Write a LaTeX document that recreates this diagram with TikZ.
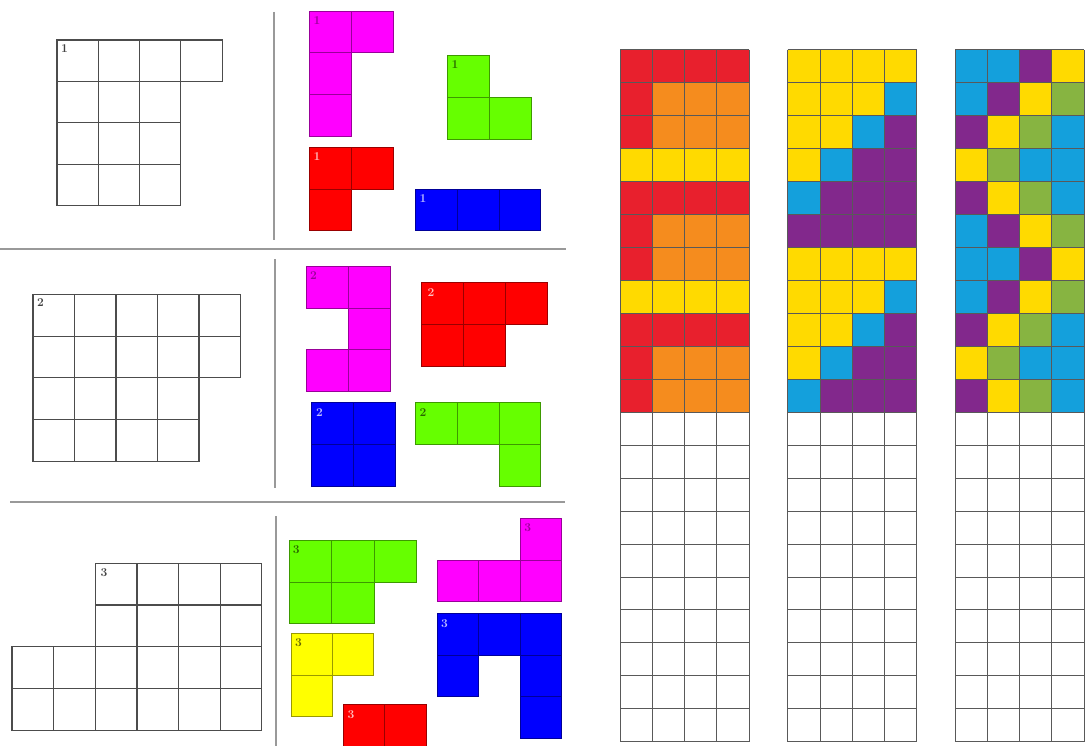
\documentclass[tikz,border=0pt]{standalone}
\usepackage{tikz}

\definecolor{pmag}{RGB}{255,0,255}
\definecolor{plime}{RGB}{102,255,0}
\definecolor{pred}{RGB}{255,0,0}
\definecolor{pblue}{RGB}{0,0,255}
\definecolor{pyel}{RGB}{255,255,0}
\definecolor{sR}{RGB}{232,32,45}
\definecolor{sO}{RGB}{245,140,30}
\definecolor{sY}{RGB}{255,218,0}
\definecolor{sC}{RGB}{20,160,220}
\definecolor{sP}{RGB}{130,40,140}
\definecolor{sG}{RGB}{135,180,65}

\begin{document}
\begin{tikzpicture}[x=1pt, y=-1pt,
    cellline/.style={draw=black!70, line width=1.1pt},
    sep/.style={draw=black!40, line width=1.8pt},
    tile/.style={draw=#1!60!black, fill=#1, line width=.8pt},
    tag/.style={anchor=north west, inner sep=0pt, font=\fontsize{12}{12}\selectfont\bfseries},
    stripline/.style={draw=black!65, line width=1pt}
]
    \useasboundingbox[fill=white] (0,0) rectangle (1091,746);

    % separators
    \draw[sep] (0,249) -- (566,249);
    \draw[sep] (10,502) -- (565,502);
    \draw[sep] (274,12) -- (274,240);
    \draw[sep] (275,259) -- (275,488);
    \draw[sep] (276.3,516) -- (276.3,746);

    % board 1
    \begin{scope}[shift={(57,40)}]
        \foreach \i in {0,...,3} \draw[cellline] (\i*41.3,0) rectangle ++(41.3,41.4);
        \foreach \j in {1,2,3} \foreach \i in {0,1,2}
            \draw[cellline] (\i*41.3,\j*41.4) rectangle ++(41.3,41.4);
        \node[tag, text=black!75] (boardone) at (4,4) {1};
    \end{scope}

    % board 2
    \begin{scope}[shift={(33,294.5)}]
        \foreach \j in {0,1} \foreach \i in {0,...,4}
            \draw[cellline] (\i*41.5,\j*41.7) rectangle ++(41.5,41.7);
        \foreach \j in {2,3} \foreach \i in {0,...,3}
            \draw[cellline] (\i*41.5,\j*41.7) rectangle ++(41.5,41.7);
        \node[tag, text=black!75] (boardtwo) at (4,4) {2};
    \end{scope}

    % board 3
    \begin{scope}[shift={(12,563.3)}]
        \foreach \j in {0,1} \foreach \i in {2,...,5}
            \draw[cellline] (\i*41.65,\j*41.7) rectangle ++(41.65,41.7);
        \foreach \j in {2,3} \foreach \i in {0,...,5}
            \draw[cellline] (\i*41.65,\j*41.7) rectangle ++(41.65,41.7);
        \node[tag, text=black!75] (boardthree) at (2*41.65+5,5) {3};
    \end{scope}

    % pieces of set 1
    \begin{scope}[shift={(309.5,11)}]
        \foreach \i/\j in {0/0,1/0,0/1,0/2} \draw[tile=pmag] (\i*42,\j*41.7) rectangle ++(42,41.7);
        \node[tag, text=pmag!60!black] (magone) at (4,5) {1};
    \end{scope}
    \begin{scope}[shift={(447.4,55)}]
        \foreach \i/\j in {0/0,0/1,1/1} \draw[tile=plime] (\i*41.8,\j*42.1) rectangle ++(41.8,42.1);
        \node[tag, text=plime!40!black] (limeone) at (4,5) {1};
    \end{scope}
    \begin{scope}[shift={(309.5,147.3)}]
        \foreach \i/\j in {0/0,1/0,0/1} \draw[tile=pred] (\i*42,\j*41.7) rectangle ++(42,41.7);
        \node[tag, text=white!75!pred] (redone) at (4,5) {1};
    \end{scope}
    \begin{scope}[shift={(415.5,189.3)}]
        \foreach \i in {0,1,2} \draw[tile=pblue] (\i*41.7,0) rectangle ++(41.7,41.4);
        \node[tag, text=white!75!pblue] (blueone) at (4,5) {1};
    \end{scope}

    % pieces of set 2
    \begin{scope}[shift={(306,266)}]
        \foreach \i/\j in {0/0,1/0,1/1,0/2,1/2} \draw[tile=pmag] (\i*42,\j*41.9) rectangle ++(42,41.9);
        \node[tag, text=pmag!60!black] (magtwo) at (4,5) {2};
    \end{scope}
    \begin{scope}[shift={(421.5,282.3)}]
        \foreach \i/\j in {0/0,1/0,2/0,0/1,1/1} \draw[tile=pred] (\i*42,\j*42.2) rectangle ++(42,42.2);
        \node[tag, text=white!75!pred] (redtwo) at (6,6) {2};
    \end{scope}
    \begin{scope}[shift={(311,402.3)}]
        \foreach \i/\j in {0/0,1/0,0/1,1/1} \draw[tile=pblue] (\i*42.3,\j*41.9) rectangle ++(42.3,41.9);
        \node[tag, text=white!75!pblue] (bluetwo) at (5,6) {2};
    \end{scope}
    \begin{scope}[shift={(415.5,402.7)}]
        \foreach \i/\j in {0/0,1/0,2/0,2/1} \draw[tile=plime] (\i*41.7,\j*41.7) rectangle ++(41.7,41.7);
        \node[tag, text=plime!40!black] (limetwo) at (4,6) {2};
    \end{scope}

    % pieces of set 3
    \begin{scope}[shift={(289.7,540.7)}]
        \foreach \i/\j in {0/0,1/0,2/0,0/1,1/1} \draw[tile=plime] (\i*42.1,\j*41.3) rectangle ++(42.1,41.3);
        \node[tag, text=plime!40!black] (limethree) at (3,5) {3};
    \end{scope}
    \begin{scope}[shift={(437,518.3)}]
        \foreach \i/\j in {2/0,0/1,1/1,2/1} \draw[tile=pmag] (\i*41.6,\j*41.7) rectangle ++(41.6,41.7);
        \node[tag, text=pmag!60!black] (magthree) at (2*41.6+4,5) {3};
    \end{scope}
    \begin{scope}[shift={(290.9,633.3)}]
        \foreach \i/\j in {0/0,1/0,0/1} \draw[tile=pyel] (\i*41,\j*41.7) rectangle ++(41,41.7);
        \node[tag, text=pyel!40!black] (yelthree) at (4,5) {3};
    \end{scope}
    \begin{scope}[shift={(437,613.3)}]
        \foreach \i/\j in {0/0,1/0,2/0,0/1,2/1,2/2} \draw[tile=pblue] (\i*41.6,\j*41.7) rectangle ++(41.6,41.7);
        \node[tag, text=white!75!pblue] (bluethree) at (4,6) {3};
    \end{scope}
    \begin{scope}[shift={(343.3,704.3)}]
        \foreach \i in {0,1} \draw[tile=pred] (\i*41.4,0) rectangle ++(41.4,42);
        \node[tag, text=white!75!pred] (redthree) at (4,6) {3};
    \end{scope}

    % colour strips
    \begin{scope}[shift={(620,50)}]
        \foreach \row [count=\r from 0] in {{R,R,R,R},{R,O,O,O},{R,O,O,O},{Y,Y,Y,Y},
                {R,R,R,R},{R,O,O,O},{R,O,O,O},{Y,Y,Y,Y},{R,R,R,R},{R,O,O,O},{R,O,O,O}}
            \foreach \c [count=\k from 0] in \row
                \fill[s\c] (\k*32.3,\r*32.94) rectangle ++(32.3,32.94);
    \end{scope}
    \begin{scope}[shift={(787.7,50)}]
        \foreach \row [count=\r from 0] in {{Y,Y,Y,Y},{Y,Y,Y,C},{Y,Y,C,P},{Y,C,P,P},
                {C,P,P,P},{P,P,P,P},{Y,Y,Y,Y},{Y,Y,Y,C},{Y,Y,C,P},{Y,C,P,P},{C,P,P,P}}
            \foreach \c [count=\k from 0] in \row
                \fill[s\c] (\k*32.3,\r*32.94) rectangle ++(32.3,32.94);
    \end{scope}
    \begin{scope}[shift={(955,50)}]
        \foreach \row [count=\r from 0] in {{C,C,P,Y},{C,P,Y,G},{P,Y,G,C},{Y,G,C,C},
                {P,Y,G,C},{C,P,Y,G},{C,C,P,Y},{C,P,Y,G},{P,Y,G,C},{Y,G,C,C},{P,Y,G,C}}
            \foreach \c [count=\k from 0] in \row
                \fill[s\c] (\k*32.3,\r*32.94) rectangle ++(32.3,32.94);
    \end{scope}
    \foreach \sx in {620,787.7,955} {
        \begin{scope}[shift={(\sx,50)}]
            \foreach \k in {0,...,4} \draw[stripline] (\k*32.3,0) -- (\k*32.3,691.7);
            \foreach \r in {0,...,21} \draw[stripline] (0,\r*32.94) -- (129.2,\r*32.94);
        \end{scope}
    }
\end{tikzpicture}
\end{document}
